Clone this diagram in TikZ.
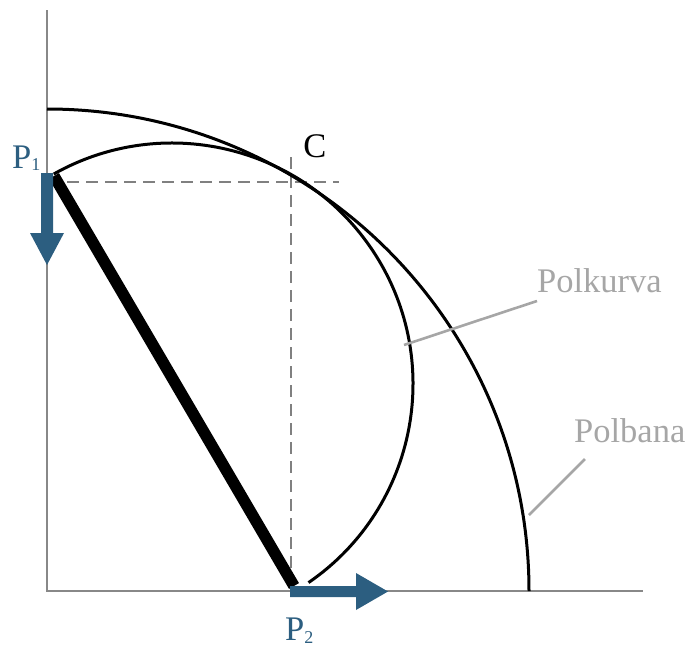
\documentclass[tikz,border=0pt]{standalone}
\usepackage{fontspec}
\setmainfont{Liberation Serif}
\begin{document}
\begin{tikzpicture}[x=1pt,y=-1pt,
  axis/.style={draw=axisgray,line width=2.8pt},
  guide/.style={draw=dashgray,line width=2.6pt,dash pattern=on 12pt off 7pt},
  curve/.style={draw=black,line width=3pt},
  rod/.style={draw=black,line width=11.5pt},
  velarrow/.style={fill=arrowblue,draw=none},
  leader/.style={draw=labelgray,line width=2.6pt},
  lbl/.style={inner sep=0pt,font=\fontsize{34.5}{40}\selectfont},
  glbl/.style={lbl,text=labelgray},
  plbl/.style={lbl,text=arrowblue}]
\definecolor{axisgray}{RGB}{136,136,136}
\definecolor{dashgray}{RGB}{128,128,128}
\definecolor{labelgray}{RGB}{166,166,166}
\definecolor{arrowblue}{RGB}{44,94,128}
\useasboundingbox (0,0) rectangle (686,646);
% key points
\coordinate (O) at (47,591);
\coordinate (Ytop) at (47,10);
\coordinate (Xend) at (643,591);
\coordinate (P1) at (54,176);
\coordinate (P2) at (294,586);
\coordinate (C) at (291,182);
\coordinate (Hs) at (67,182);
\coordinate (He) at (339,182);
\coordinate (Vs) at (291,157);
\coordinate (Ve) at (291,585);
\coordinate (Btop) at (47,109);
\coordinate (Kstart) at (308.5,582.6);
% axes
\draw[axis] (Ytop) -- (O) -- (Xend);
% guides
\draw[guide] (Hs) -- (He);
\draw[guide] (Vs) -- (Ve);
% polbana
\draw[curve] (Btop) arc[start angle=-90,end angle=0,radius=482];
% polkurva
\draw[curve] (Kstart) arc[start angle=55.5,end angle=-119.4,radius=241];
% rod
\draw[rod] (P1) -- (P2);
% velocity arrows
\fill[velarrow] (41,173) -- (53,173) -- (53,233) -- (64,233) -- (47,265) -- (30,233) -- (41,233) -- cycle;
\fill[velarrow] (290,586) -- (356,586) -- (356,573) -- (388,591.5) -- (356,610) -- (356,597) -- (290,597) -- cycle;
% labels
\node[glbl,anchor=base west] (lk) at (537,292) {Polkurva};
\node[glbl,anchor=base west] (lb) at (574,442) {Polbana};
\node[lbl,anchor=base] (lc) at (315,157) {C};
\node[plbl,anchor=base west] (lp1) at (12,168) {P{\fontsize{18}{20}\selectfont\raisebox{-2pt}{1}}};
\node[plbl,anchor=base west] (lp2) at (285,640) {P{\fontsize{18}{20}\selectfont\raisebox{-3pt}{2}}};
% leaders
\coordinate (lkE) at (404,345);
\coordinate (lkS) at (537,301);
\coordinate (lbE) at (529,515);
\coordinate (lbS) at (585,459);
\draw[leader] (lkS) -- (lkE);
\draw[leader] (lbS) -- (lbE);
\end{tikzpicture}
\end{document}
